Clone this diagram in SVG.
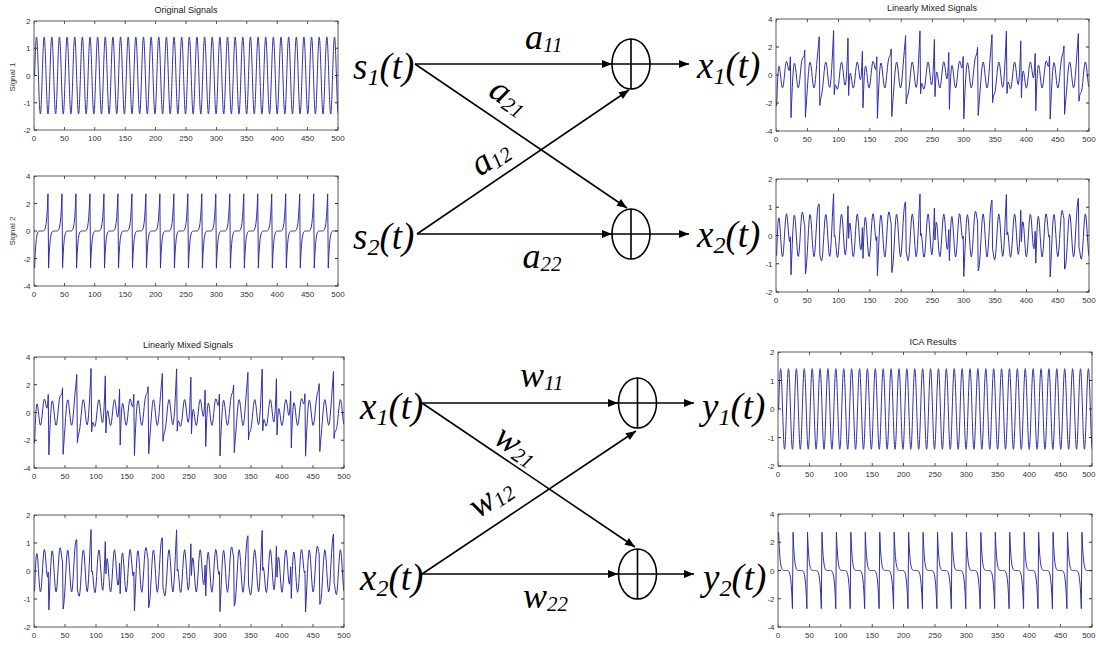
<svg xmlns="http://www.w3.org/2000/svg" width="1096" height="647" viewBox="0 0 1096 647">
<style>
.ax{fill:none;stroke:#333;stroke-width:.8}
.tk{fill:none;stroke:#333;stroke-width:3}
.sig{fill:none;stroke:#3030a8;stroke-width:1;vector-effect:non-scaling-stroke;stroke-linejoin:round}
.tl{font-family:"Liberation Sans",Arial,sans-serif;font-size:8px;fill:#333}
.xl{text-anchor:middle}
.yl{text-anchor:end}
.ti{font-family:"Liberation Sans",Arial,sans-serif;font-size:9px;fill:#222;text-anchor:middle}
.big{font-family:"Liberation Serif","Times New Roman",serif;font-style:italic;font-size:37px;fill:#000}
.lab{font-family:"Liberation Serif","Times New Roman",serif;font-style:italic;font-size:36px;fill:#000}
.sb{font-size:24px}
.ls{font-size:21px}
.con{fill:none;stroke:#000;stroke-width:1.6}
.sum{fill:none;stroke:#000;stroke-width:1.6}
</style>
<defs>
<marker id="ah" markerUnits="userSpaceOnUse" markerWidth="10" markerHeight="8" refX="10" refY="4" orient="auto" overflow="visible"><path d="M0,0L10,4L0,8z" fill="#000"/></marker>
<clipPath id="dc"><rect x="0" y="-6" width="500" height="12"/></clipPath>
<path id="sp" class="sig" d="M0,0c1.0246,.7244 2.0046,1.414 3.1416,1.414s2.117,-.6896 3.1416,-1.414s2.0046,-1.414 3.1416,-1.414s2.117,.6896 3.1416,1.414"/>
<g id="sp5"><use href="#sp"/><use href="#sp" x="12.5664"/><use href="#sp" x="25.1327"/><use href="#sp" x="37.6991"/><use href="#sp" x="50.2655"/></g>
<g id="dS1" transform="translate(1,0)"><use href="#sp5"/><use href="#sp5" x="62.8319"/><use href="#sp5" x="125.6637"/><use href="#sp5" x="188.4956"/><use href="#sp5" x="251.3274"/><use href="#sp5" x="314.1593"/><use href="#sp5" x="376.9911"/><use href="#sp5" x="439.823"/></g>
<path id="s2p" class="sig" d="M0,-2.703 1,-1.678 2,-.991 3,-.55 4,-.282 5,-.131 6,-.052 7,-.017 8,-.004 9,0 10,0 11,0 12,0 13,0 14,.004 15,.017 16,.052 17,.131 18,.282 19,.55 20,.991 21,1.678 22,2.703 23,-2.703"/>
<g id="dS2"><use href="#s2p" x="1"/><use href="#s2p" x="24"/><use href="#s2p" x="47"/><use href="#s2p" x="70"/><use href="#s2p" x="93"/><use href="#s2p" x="116"/><use href="#s2p" x="139"/><use href="#s2p" x="162"/><use href="#s2p" x="185"/><use href="#s2p" x="208"/><use href="#s2p" x="231"/><use href="#s2p" x="254"/><use href="#s2p" x="277"/><use href="#s2p" x="300"/><use href="#s2p" x="323"/><use href="#s2p" x="346"/><use href="#s2p" x="369"/><use href="#s2p" x="392"/><use href="#s2p" x="415"/><use href="#s2p" x="438"/><use href="#s2p" x="461"/><use href="#s2p" x="484"/></g>
<path id="dX1" class="sig" d="M1,-2.23L2,-.94 3,-.03 4,.48 5,.62 6,.45 7,.09 8,-.34 9,-.71 10,-.91 11,-.89 12,-.66 13,-.26 14,.2 15,.62 16,.89 17,.97 18,.85 19,.62 20,.38 21,.31 22,.57 23,1.3 24,-3.05 25,-1.89 26,-.88 27,-.06 28,.52 29,.82 30,.83 31,.59 32,.19 33,-.27 34,-.66 35,-.9 36,-.91 37,-.7 38,-.32 39,.15 40,.61 41,.96 42,1.16 43,1.24 44,1.26 45,1.38 46,1.78 47,-3.02 48,-2.32 49,-1.66 50,-1.01 51,-.36 52,.23 53,.67 54,.9 55,.89 56,.65 57,.25 58,-.21 59,-.62 60,-.88 61,-.92 62,-.73 63,-.33 64,.19 65,.75 66,1.28 67,1.75 68,2.2 69,2.73 70,-2.18 71,-1.79 72,-1.57 73,-1.38 74,-1.1 75,-.71 76,-.23 77,.26 78,.67 79,.9 80,.91 81,.7 82,.31 83,-.15 84,-.57 85,-.84 86,-.89 87,-.67 88,-.2 89,.47 90,1.28 91,2.18 92,3.17 93,-1.39 94,-.84 95,-.7 96,-.8 97,-.95 98,-1.02 99,-.93 100,-.66 101,-.25 102,.22 103,.63 104,.88 105,.92 106,.74 107,.37 108,-.07 109,-.48 110,-.72 111,-.7 112,-.35 113,.33 114,1.34 115,2.64 116,-1.47 117,-.46 118,.05 119,.14 120,-.06 121,-.39 122,-.72 123,-.92 124,-.91 125,-.69 126,-.3 127,.16 128,.58 129,.86 130,.93 131,.79 132,.47 133,.08 134,-.24 135,-.34 136,-.11 137,.55 138,1.69 139,-2.34 140,-1.04 141,-.1 142,.46 143,.65 144,.53 145,.19 146,-.24 147,-.63 148,-.88 149,-.92 150,-.73 151,-.36 152,.1 153,.53 154,.85 155,.98 156,.91 157,.71 158,.49 159,.4 160,.62 161,1.31 162,-3.1 163,-1.97 164,-.99 165,-.16 166,.45 167,.8 168,.86 169,.67 170,.29 171,-.16 172,-.59 173,-.86 174,-.93 175,-.77 176,-.42 177,.05 178,.52 179,.91 180,1.17 181,1.29 182,1.35 183,1.49 184,1.87 185,-2.96 186,-2.3 187,-1.7 188,-1.09 189,-.46 190,.13 191,.59 192,.87 193,.92 194,.73 195,.36 196,-.1 197,-.54 198,-.84 199,-.93 200,-.79 201,-.43 202,.08 203,.65 204,1.22 205,1.75 206,2.25 207,2.81 208,-2.07 209,-1.69 210,-1.51 211,-1.36 212,-1.14 213,-.79 214,-.33 215,.16 216,.59 217,.87 218,.93 219,.76 220,.41 221,-.04 222,-.48 223,-.79 224,-.89 225,-.72 226,-.29 227,.36 228,1.19 229,2.12 230,3.15 231,-1.35 232,-.76 233,-.6 234,-.69 235,-.88 236,-1 237,-.96 238,-.73 239,-.35 240,.11 241,.54 242,.84 243,.93 244,.8 245,.47 246,.03 247,-.39 248,-.67 249,-.7 250,-.4 251,.24 252,1.23 253,2.54 254,-1.54 255,-.48 256,.08 257,.22 258,.05 259,-.29 260,-.64 261,-.88 262,-.93 263,-.76 264,-.4 265,.05 266,.49 267,.81 268,.94 269,.84 270,.56 271,.19 272,-.14 273,-.28 274,-.1 275,.51 276,1.61 277,-2.45 278,-1.14 279,-.17 280,.44 281,.68 282,.61 283,.3 284,-.13 285,-.55 286,-.84 287,-.93 288,-.79 289,-.46 290,-.01 291,.44 292,.79 293,.97 294,.96 295,.8 296,.6 297,.5 298,.69 299,1.32 300,-3.13 301,-2.05 302,-1.09 303,-.27 304,.37 305,.76 306,.88 307,.74 308,.39 309,-.06 310,-.5 311,-.82 312,-.93 313,-.82 314,-.51 315,-.06 316,.42 317,.85 318,1.16 319,1.33 320,1.43 321,1.59 322,1.98 323,-2.89 324,-2.28 325,-1.73 326,-1.16 327,-.56 328,.02 329,.51 330,.83 331,.93 332,.79 333,.45 334,0 335,-.44 336,-.78 337,-.93 338,-.84 339,-.52 340,-.03 341,.56 342,1.16 343,1.73 344,2.28 345,2.89 346,-1.97 347,-1.58 348,-1.43 349,-1.33 350,-1.16 351,-.86 352,-.43 353,.05 354,.5 355,.82 356,.93 357,.82 358,.51 359,.07 360,-.39 361,-.73 362,-.88 363,-.77 364,-.38 365,.26 366,1.08 367,2.05 368,3.13 369,-1.32 370,-.68 371,-.5 372,-.59 373,-.79 374,-.96 375,-.97 376,-.8 377,-.45 378,0 379,.45 380,.79 381,.93 382,.85 383,.56 384,.14 385,-.29 386,-.6 387,-.68 388,-.44 389,.16 390,1.13 391,2.44 392,-1.62 393,-.51 394,.1 395,.29 396,.15 397,-.18 398,-.55 399,-.84 400,-.94 401,-.82 402,-.5 403,-.06 404,.4 405,.75 406,.93 407,.88 408,.65 409,.3 410,-.04 411,-.21 412,-.08 413,.48 414,1.54 415,-2.55 416,-1.24 417,-.25 418,.4 419,.7 420,.67 421,.39 422,-.03 423,-.46 424,-.79 425,-.93 426,-.84 427,-.55 428,-.12 429,.34 430,.73 431,.96 432,1 433,.88 434,.7 435,.61 436,.76 437,1.35 438,-3.15 439,-2.12 440,-1.19 441,-.37 442,.28 443,.72 444,.89 445,.8 446,.49 447,.05 448,-.4 449,-.76 450,-.93 451,-.87 452,-.59 453,-.17 454,.32 455,.78 456,1.13 457,1.36 458,1.51 459,1.69 460,2.08 461,-2.81 462,-2.24 463,-1.75 464,-1.23 465,-.66 466,-.09 467,.42 468,.78 469,.93 470,.84 471,.54 472,.11 473,-.35 474,-.72 475,-.91 476,-.87 477,-.6 478,-.13 479,.45 480,1.08 481,1.7 482,2.31 483,2.96 484,-1.87 485,-1.48 486,-1.34 487,-1.28 488,-1.17 489,-.91 490,-.53 491,-.05 492,.41 493,.76 494,.93 495,.86 496,.59 497,.17 498,-.29 499,-.67 500,-.86"/>
<path id="dX2" class="sig" d="M1,-.72L2,-.08 3,.38 4,.61 5,.62 6,.42 7,.09 8,-.27 9,-.58 10,-.74 11,-.73 12,-.54 13,-.21 14,.16 15,.5 16,.72 17,.77 18,.64 19,.39 20,.09 21,-.15 22,-.22 23,-.04 24,-1.39 25,-.86 26,-.31 27,.17 28,.54 29,.72 30,.7 31,.49 32,.16 33,-.22 34,-.54 35,-.73 36,-.74 37,-.57 38,-.26 39,.12 40,.47 41,.73 42,.83 43,.78 44,.62 45,.44 46,.35 47,-1.36 48,-1.21 49,-.95 50,-.6 51,-.18 52,.24 53,.57 54,.74 55,.73 56,.53 57,.21 58,-.17 59,-.5 60,-.72 61,-.75 62,-.6 63,-.29 64,.1 65,.49 66,.82 67,1.02 68,1.11 69,1.12 70,-.68 71,-.77 72,-.88 73,-.9 74,-.78 75,-.52 76,-.16 77,.22 78,.55 79,.73 80,.74 81,.57 82,.25 83,-.12 84,-.47 85,-.69 86,-.74 87,-.6 88,-.28 89,.16 90,.64 91,1.09 92,1.48 93,-.03 94,0 95,-.17 96,-.43 97,-.66 98,-.78 99,-.74 100,-.53 101,-.2 102,.18 103,.51 104,.72 105,.75 106,.6 107,.3 108,-.07 109,-.41 110,-.64 111,-.69 112,-.51 113,-.13 114,.41 115,1.05 116,-.1 117,.31 118,.44 119,.34 120,.07 121,-.27 122,-.56 123,-.74 124,-.74 125,-.56 126,-.25 127,.13 128,.47 129,.7 130,.76 131,.63 132,.36 133,.01 134,-.31 135,-.5 136,-.5 137,-.24 138,.28 139,-.81 140,-.16 141,.32 142,.6 143,.65 144,.49 145,.18 146,-.19 147,-.52 148,-.72 149,-.75 150,-.59 151,-.3 152,.08 153,.43 154,.68 155,.77 156,.69 157,.47 158,.18 159,-.07 160,-.18 161,-.04 162,-1.42 163,-.93 164,-.4 165,.09 166,.48 167,.7 168,.72 169,.55 170,.24 171,-.13 172,-.48 173,-.7 174,-.76 175,-.63 176,-.34 177,.03 178,.4 179,.69 180,.83 181,.83 182,.7 183,.53 184,.43 185,-1.31 186,-1.2 187,-.98 188,-.66 189,-.26 190,.16 191,.51 192,.72 193,.75 194,.59 195,.29 196,-.08 197,-.44 198,-.68 199,-.76 200,-.65 201,-.37 202,.01 203,.42 204,.77 205,1.02 206,1.15 207,1.19 208,-.59 209,-.69 210,-.82 211,-.89 212,-.81 213,-.59 214,-.25 215,.14 216,.48 217,.71 218,.76 219,.62 220,.33 221,-.03 222,-.39 223,-.65 224,-.75 225,-.64 226,-.35 227,.07 228,.56 229,1.04 230,1.47 231,0 232,.07 233,-.08 234,-.34 235,-.6 236,-.76 237,-.76 238,-.59 239,-.28 240,.09 241,.44 242,.68 243,.76 244,.65 245,.38 246,.02 247,-.34 248,-.6 249,-.68 250,-.55 251,-.2 252,.32 253,.97 254,-.16 255,.29 256,.47 257,.4 258,.15 259,-.18 260,-.5 261,-.71 262,-.75 263,-.62 264,-.33 265,.04 266,.4 267,.66 268,.76 269,.68 270,.44 271,.1 272,-.23 273,-.45 274,-.49 275,-.27 276,.21 277,-.89 278,-.24 279,.26 280,.58 281,.67 282,.55 283,.26 284,-.1 285,-.45 286,-.69 287,-.76 288,-.65 289,-.37 290,-.01 291,.36 292,.64 293,.77 294,.73 295,.54 296,.26 297,.01 298,-.12 299,-.02 300,-1.45 301,-.99 302,-.49 303,.01 304,.42 305,.67 306,.74 307,.61 308,.32 309,-.05 310,-.41 311,-.66 312,-.76 313,-.67 314,-.42 315,-.06 316,.32 317,.64 318,.83 319,.86 320,.77 321,.61 322,.51 323,-1.25 324,-1.18 325,-1.01 326,-.72 327,-.34 328,.07 329,.44 330,.69 331,.76 332,.64 333,.37 334,0 335,-.36 336,-.64 337,-.76 338,-.69 339,-.44 340,-.08 341,.34 342,.72 343,1.01 344,1.18 345,1.26 346,-.5 347,-.61 348,-.76 349,-.86 350,-.83 351,-.64 352,-.33 353,.05 354,.41 355,.67 356,.76 357,.67 358,.41 359,.05 360,-.32 361,-.6 362,-.74 363,-.68 364,-.42 365,-.01 366,.48 367,.99 368,1.45 369,.02 370,.13 371,0 372,-.26 373,-.53 374,-.73 375,-.77 376,-.64 377,-.36 378,0 379,.37 380,.64 381,.76 382,.69 383,.45 384,.11 385,-.26 386,-.54 387,-.67 388,-.58 389,-.27 390,.24 391,.89 392,-.22 393,.27 394,.49 395,.46 396,.24 397,-.1 398,-.43 399,-.68 400,-.76 401,-.66 402,-.41 403,-.05 404,.32 405,.61 406,.75 407,.71 408,.51 409,.19 410,-.15 411,-.4 412,-.47 413,-.29 414,.15 415,-.98 416,-.33 417,.2 418,.55 419,.68 420,.6 421,.34 422,-.02 423,-.37 424,-.65 425,-.76 426,-.69 427,-.45 428,-.1 429,.28 430,.59 431,.76 432,.76 433,.6 434,.35 435,.09 436,-.06 437,0 438,-1.47 439,-1.05 440,-.57 441,-.08 442,.35 443,.64 444,.75 445,.66 446,.4 447,.04 448,-.33 449,-.62 450,-.75 451,-.71 452,-.49 453,-.14 454,.24 455,.58 456,.81 457,.89 458,.83 459,.7 460,.6 461,-1.19 462,-1.15 463,-1.02 464,-.78 465,-.42 466,-.02 467,.37 468,.64 469,.76 470,.68 471,.44 472,.09 473,-.28 474,-.59 475,-.75 476,-.72 477,-.51 478,-.16 479,.26 480,.66 481,.98 482,1.2 483,1.32 484,-.42 485,-.52 486,-.69 487,-.82 488,-.84 489,-.69 490,-.41 491,-.04 492,.34 493,.62 494,.76 495,.7 496,.48 497,.14 498,-.24 499,-.55 500,-.72"/>
</defs>
<rect width="1096" height="647" fill="#fff"/>

<g id="plot-original-1">
<text class="ti" x="186" y="13">Original Signals</text>
<text class="tl xl" transform="translate(15,77) rotate(-90)">Signal 1</text>
<g transform="translate(34,75.5) scale(.608,-27.25)" clip-path="url(#dc)"><use href="#dS1"/></g>
<rect class="ax" x="34" y="21" width="304" height="109"/>
<path class="tk" stroke-dasharray=".8 29.6" stroke-dashoffset=".4" d="M34 128.5H338.5M34 22.5H338.5"/>
<path class="tk" stroke-dasharray=".8 26.45" stroke-dashoffset=".4" d="M35.5 21V130.5M336.5 21V130.5"/>
<text class="tl xl" y="141"><tspan x="34">0</tspan><tspan x="64.4">50</tspan><tspan x="94.8">100</tspan><tspan x="125.2">150</tspan><tspan x="155.6">200</tspan><tspan x="186">250</tspan><tspan x="216.4">300</tspan><tspan x="246.8">350</tspan><tspan x="277.2">400</tspan><tspan x="307.6">450</tspan><tspan x="338">500</tspan></text>
<text class="tl yl"><tspan x="30.5" y="24">2</tspan><tspan x="30.5" y="51.25">1</tspan><tspan x="30.5" y="78.5">0</tspan><tspan x="30.5" y="105.75">-1</tspan><tspan x="30.5" y="133">-2</tspan></text>
</g>

<g id="plot-original-2">
<text class="tl xl" transform="translate(15,231) rotate(-90)">Signal 2</text>
<g transform="translate(34,231) scale(.608,-13.75)" clip-path="url(#dc)"><use href="#dS2"/></g>
<rect class="ax" x="34" y="176" width="304" height="110"/>
<path class="tk" stroke-dasharray=".8 29.6" stroke-dashoffset=".4" d="M34 284.5H338.5M34 177.5H338.5"/>
<path class="tk" stroke-dasharray=".8 26.7" stroke-dashoffset=".4" d="M35.5 176V286.5M336.5 176V286.5"/>
<text class="tl xl" y="297"><tspan x="34">0</tspan><tspan x="64.4">50</tspan><tspan x="94.8">100</tspan><tspan x="125.2">150</tspan><tspan x="155.6">200</tspan><tspan x="186">250</tspan><tspan x="216.4">300</tspan><tspan x="246.8">350</tspan><tspan x="277.2">400</tspan><tspan x="307.6">450</tspan><tspan x="338">500</tspan></text>
<text class="tl yl"><tspan x="30.5" y="179">4</tspan><tspan x="30.5" y="206.5">2</tspan><tspan x="30.5" y="234">0</tspan><tspan x="30.5" y="261.5">-2</tspan><tspan x="30.5" y="289">-4</tspan></text>
</g>

<g id="plot-mixed-1-top">
<text class="ti" x="932" y="11">Linearly Mixed Signals</text>
<g transform="translate(776,75) scale(.626,-14)" clip-path="url(#dc)"><use href="#dX1"/></g>
<rect class="ax" x="776" y="19" width="313" height="112"/>
<path class="tk" stroke-dasharray=".8 30.5" stroke-dashoffset=".4" d="M776 129.5H1089.5M776 20.5H1089.5"/>
<path class="tk" stroke-dasharray=".8 27.2" stroke-dashoffset=".4" d="M777.5 19V131.5M1087.5 19V131.5"/>
<text class="tl xl" y="142"><tspan x="776">0</tspan><tspan x="807.3">50</tspan><tspan x="838.6">100</tspan><tspan x="869.9">150</tspan><tspan x="901.2">200</tspan><tspan x="932.5">250</tspan><tspan x="963.8">300</tspan><tspan x="995.1">350</tspan><tspan x="1026.4">400</tspan><tspan x="1057.7">450</tspan><tspan x="1089">500</tspan></text>
<text class="tl yl"><tspan x="772.5" y="22">4</tspan><tspan x="772.5" y="50">2</tspan><tspan x="772.5" y="78">0</tspan><tspan x="772.5" y="106">-2</tspan><tspan x="772.5" y="134">-4</tspan></text>
</g>

<g id="plot-mixed-2-top">
<g transform="translate(776,235.5) scale(.626,-28.25)" clip-path="url(#dc)"><use href="#dX2"/></g>
<rect class="ax" x="776" y="179" width="313" height="113"/>
<path class="tk" stroke-dasharray=".8 30.5" stroke-dashoffset=".4" d="M776 290.5H1089.5M776 180.5H1089.5"/>
<path class="tk" stroke-dasharray=".8 27.45" stroke-dashoffset=".4" d="M777.5 179V292.5M1087.5 179V292.5"/>
<text class="tl xl" y="303"><tspan x="776">0</tspan><tspan x="807.3">50</tspan><tspan x="838.6">100</tspan><tspan x="869.9">150</tspan><tspan x="901.2">200</tspan><tspan x="932.5">250</tspan><tspan x="963.8">300</tspan><tspan x="995.1">350</tspan><tspan x="1026.4">400</tspan><tspan x="1057.7">450</tspan><tspan x="1089">500</tspan></text>
<text class="tl yl"><tspan x="772.5" y="182">2</tspan><tspan x="772.5" y="210.25">1</tspan><tspan x="772.5" y="238.5">0</tspan><tspan x="772.5" y="266.75">-1</tspan><tspan x="772.5" y="295">-2</tspan></text>
</g>

<g id="plot-mixed-1-bottom">
<text class="ti" x="188" y="348">Linearly Mixed Signals</text>
<g transform="translate(34,412.5) scale(.62,-13.875)" clip-path="url(#dc)"><use href="#dX1"/></g>
<rect class="ax" x="34" y="357" width="310" height="111"/>
<path class="tk" stroke-dasharray=".8 30.2" stroke-dashoffset=".4" d="M34 466.5H344.5M34 358.5H344.5"/>
<path class="tk" stroke-dasharray=".8 26.95" stroke-dashoffset=".4" d="M35.5 357V468.5M342.5 357V468.5"/>
<text class="tl xl" y="479"><tspan x="34">0</tspan><tspan x="65">50</tspan><tspan x="96">100</tspan><tspan x="127">150</tspan><tspan x="158">200</tspan><tspan x="189">250</tspan><tspan x="220">300</tspan><tspan x="251">350</tspan><tspan x="282">400</tspan><tspan x="313">450</tspan><tspan x="344">500</tspan></text>
<text class="tl yl"><tspan x="30.5" y="360">4</tspan><tspan x="30.5" y="387.75">2</tspan><tspan x="30.5" y="415.5">0</tspan><tspan x="30.5" y="443.25">-2</tspan><tspan x="30.5" y="471">-4</tspan></text>
</g>

<g id="plot-mixed-2-bottom">
<g transform="translate(34,571) scale(.62,-28)" clip-path="url(#dc)"><use href="#dX2"/></g>
<rect class="ax" x="34" y="515" width="310" height="112"/>
<path class="tk" stroke-dasharray=".8 30.2" stroke-dashoffset=".4" d="M34 625.5H344.5M34 516.5H344.5"/>
<path class="tk" stroke-dasharray=".8 27.2" stroke-dashoffset=".4" d="M35.5 515V627.5M342.5 515V627.5"/>
<text class="tl xl" y="638"><tspan x="34">0</tspan><tspan x="65">50</tspan><tspan x="96">100</tspan><tspan x="127">150</tspan><tspan x="158">200</tspan><tspan x="189">250</tspan><tspan x="220">300</tspan><tspan x="251">350</tspan><tspan x="282">400</tspan><tspan x="313">450</tspan><tspan x="344">500</tspan></text>
<text class="tl yl"><tspan x="30.5" y="518">2</tspan><tspan x="30.5" y="546">1</tspan><tspan x="30.5" y="574">0</tspan><tspan x="30.5" y="602">-1</tspan><tspan x="30.5" y="630">-2</tspan></text>
</g>

<g id="plot-ica-1">
<text class="ti" x="933" y="345">ICA Results</text>
<g transform="translate(778,409) scale(.628,-28.5)" clip-path="url(#dc)"><use href="#dS1"/></g>
<rect class="ax" x="778" y="352" width="314" height="114"/>
<path class="tk" stroke-dasharray=".8 30.6" stroke-dashoffset=".4" d="M778 464.5H1092.5M778 353.5H1092.5"/>
<path class="tk" stroke-dasharray=".8 27.7" stroke-dashoffset=".4" d="M779.5 352V466.5M1090.5 352V466.5"/>
<text class="tl xl" y="477"><tspan x="778">0</tspan><tspan x="809.4">50</tspan><tspan x="840.8">100</tspan><tspan x="872.2">150</tspan><tspan x="903.6">200</tspan><tspan x="935">250</tspan><tspan x="966.4">300</tspan><tspan x="997.8">350</tspan><tspan x="1029.2">400</tspan><tspan x="1060.6">450</tspan></text>
<text class="tl" x="1095.5" y="477" text-anchor="end">500</text>
<text class="tl yl"><tspan x="774.5" y="355">2</tspan><tspan x="774.5" y="383.5">1</tspan><tspan x="774.5" y="412">0</tspan><tspan x="774.5" y="440.5">-1</tspan><tspan x="774.5" y="469">-2</tspan></text>
</g>

<g id="plot-ica-2">
<g transform="translate(778,570.5) scale(.628,14.125)" clip-path="url(#dc)"><use href="#dS2"/></g>
<rect class="ax" x="778" y="514" width="314" height="113"/>
<path class="tk" stroke-dasharray=".8 30.6" stroke-dashoffset=".4" d="M778 625.5H1092.5M778 515.5H1092.5"/>
<path class="tk" stroke-dasharray=".8 27.45" stroke-dashoffset=".4" d="M779.5 514V627.5M1090.5 514V627.5"/>
<text class="tl xl" y="638"><tspan x="778">0</tspan><tspan x="809.4">50</tspan><tspan x="840.8">100</tspan><tspan x="872.2">150</tspan><tspan x="903.6">200</tspan><tspan x="935">250</tspan><tspan x="966.4">300</tspan><tspan x="997.8">350</tspan><tspan x="1029.2">400</tspan><tspan x="1060.6">450</tspan></text>
<text class="tl" x="1095.5" y="638" text-anchor="end">500</text>
<text class="tl yl"><tspan x="774.5" y="517">4</tspan><tspan x="774.5" y="545.25">2</tspan><tspan x="774.5" y="573.5">0</tspan><tspan x="774.5" y="601.75">-2</tspan><tspan x="774.5" y="630">-4</tspan></text>
</g>

<g id="connectors" class="con">
<path d="M415 64H612" marker-end="url(#ah)"/>
<path d="M650 64H689" marker-end="url(#ah)"/>
<path d="M415 64L627 208" marker-end="url(#ah)"/>
<path d="M417 234L629 90" marker-end="url(#ah)"/>
<path d="M417 234H612" marker-end="url(#ah)"/>
<path d="M650 234H689" marker-end="url(#ah)"/>
<path d="M422 403H618" marker-end="url(#ah)"/>
<path d="M657 403H694" marker-end="url(#ah)"/>
<path d="M422 403L635 547" marker-end="url(#ah)"/>
<path d="M422 574L636 431" marker-end="url(#ah)"/>
<path d="M422 574H618" marker-end="url(#ah)"/>
<path d="M657 574H694" marker-end="url(#ah)"/>
</g>
<g id="connector-labels">
<text class="lab" x="525" y="49">a<tspan class="ls" dy="3">11</tspan></text>
<text class="lab" transform="translate(487,95) rotate(34)">a<tspan class="ls" dy="3">21</tspan></text>
<text class="lab" transform="translate(480,177) rotate(-34)">a<tspan class="ls" dy="3">12</tspan></text>
<text class="lab" x="522.5" y="268">a<tspan class="ls" dy="3">22</tspan></text>
<text class="lab" x="520" y="387">w<tspan class="ls" dy="3">11</tspan></text>
<text class="lab" transform="translate(492,442) rotate(34)">w<tspan class="ls" dy="3">21</tspan></text>
<text class="lab" transform="translate(478,519) rotate(-34)">w<tspan class="ls" dy="3">12</tspan></text>
<text class="lab" x="523" y="608">w<tspan class="ls" dy="3">22</tspan></text>
</g>

<g id="node-s1"><text class="big" x="353" y="79">s<tspan class="sb" dy="6">1</tspan><tspan dy="-6">(t)</tspan></text></g>
<g id="node-s2"><text class="big" x="353" y="249">s<tspan class="sb" dy="6">2</tspan><tspan dy="-6">(t)</tspan></text></g>
<g id="node-sum-a1" class="sum"><ellipse cx="631" cy="64" rx="19" ry="25"/><path d="M631 39V89M612 64H650"/></g>
<g id="node-sum-a2" class="sum"><ellipse cx="631" cy="234" rx="19" ry="25"/><path d="M631 209V259M612 234H650"/></g>
<g id="node-x1-out"><text class="big" x="697" y="78">x<tspan class="sb" dy="6">1</tspan><tspan dy="-6">(t)</tspan></text></g>
<g id="node-x2-out"><text class="big" x="697" y="247">x<tspan class="sb" dy="6">2</tspan><tspan dy="-6">(t)</tspan></text></g>

<g id="node-x1-in"><text class="big" x="360" y="419">x<tspan class="sb" dy="6">1</tspan><tspan dy="-6">(t)</tspan></text></g>
<g id="node-x2-in"><text class="big" x="360" y="590">x<tspan class="sb" dy="6">2</tspan><tspan dy="-6">(t)</tspan></text></g>
<g id="node-sum-w1" class="sum"><ellipse cx="637.5" cy="403" rx="19" ry="25"/><path d="M637.5 378V428M618.5 403H656.5"/></g>
<g id="node-sum-w2" class="sum"><ellipse cx="637.5" cy="574" rx="19" ry="25"/><path d="M637.5 549V599M618.5 574H656.5"/></g>
<g id="node-y1"><text class="big" x="702" y="419">y<tspan class="sb" dy="6">1</tspan><tspan dy="-6">(t)</tspan></text></g>
<g id="node-y2"><text class="big" x="703" y="590">y<tspan class="sb" dy="6">2</tspan><tspan dy="-6">(t)</tspan></text></g>
</svg>
